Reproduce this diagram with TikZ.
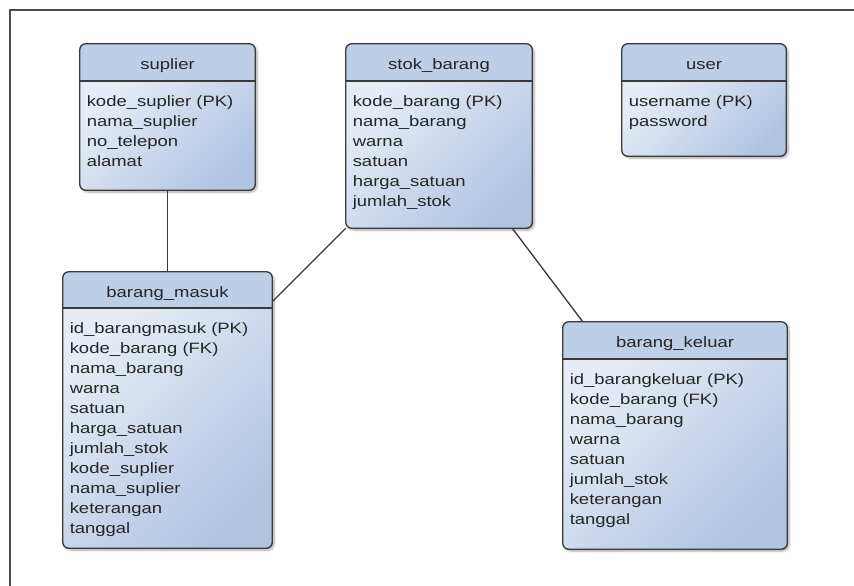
\documentclass[tikz,border=0pt]{standalone}
\usepackage{fontspec}
\newfontfamily\erdfont{Liberation Sans}[FakeStretch=1.23]
\usetikzlibrary{fit,shadows.blur}
\definecolor{headblue}{HTML}{BDCEE7}
\definecolor{bodylight}{HTML}{E6ECF6}
\definecolor{bodydark}{HTML}{B0C4E2}
\definecolor{edge}{HTML}{3A3A3A}
\definecolor{ink}{HTML}{262626}
\tikzset{
  tablebox/.style={inner sep=0pt, rounded corners=4.5pt, fill=bodydark,
    blur shadow={shadow xshift=1.5pt, shadow yshift=-1.5pt, shadow blur steps=6, shadow opacity=35}},
  frame/.style={draw=edge, line width=1pt, rounded corners=4.5pt},
  divider/.style={draw=edge, line width=1pt},
  bodyshade/.style={top color=bodylight, bottom color=bodydark, shading angle=45},
  headtext/.style={font=\erdfont\fontsize{11.25}{15}\selectfont, text=ink, inner sep=0pt, anchor=base},
  rowtext/.style={headtext, anchor=base west},
  link/.style={draw=edge, line width=1pt},
  outer/.style={draw=black!70, line width=1pt},
}
% #1 name, #2 left, #3 top, #4 right, #5 bottom, #6 header line, #7 title, #8 rows
\newcommand{\erdtable}[8]{%
  \node[tablebox, fit={(#2,#3) (#4,#5)}] (#1) {};
  \begin{scope}
    \clip[rounded corners=4.5pt] (#2,#3) rectangle (#4,#5);
    \fill[headblue] (#2,#3) rectangle (#4,#6);
    \shade[bodyshade] (#2,#6) rectangle (#4,#5);
  \end{scope}
  \draw[frame] (#1.north west) rectangle (#1.south east);
  \draw[divider] (#1.west |- 0,#6) -- (#1.east |- 0,#6);
  \node[headtext] (#1-title) at ({(#2+#4)/2},{#3+25.5}) {#7};
  \foreach \row [count=\i] in {#8} {
    \node[rowtext] (#1-r\i) at ({#2+6.5},{#6+25.5+20*(\i-1)}) {\row};
  }
}
\begin{document}
\begin{tikzpicture}[x=0.75pt,y=-0.75pt]
\useasboundingbox (0,0) rectangle (854,586);
\coordinate (fbl) at (10,586);
\coordinate (ftl) at (10,10);
\coordinate (ftr) at (854,10);
\draw[outer] (fbl) -- (ftl) -- (ftr);

\erdtable{sup}{80}{44}{255}{190}{81}{suplier}{kode\_suplier (PK),nama\_suplier,no\_telepon,alamat}
\erdtable{stok}{346}{44}{532}{228}{81}{stok\_barang}{kode\_barang (PK),nama\_barang,warna,satuan,harga\_satuan,jumlah\_stok}
\erdtable{usr}{622}{44}{786}{156}{81}{user}{username (PK),password}
\erdtable{masuk}{63}{272}{272}{548}{308}{barang\_masuk}{id\_barangmasuk (PK),kode\_barang (FK),nama\_barang,warna,satuan,harga\_satuan,jumlah\_stok,kode\_suplier,nama\_suplier,keterangan,tanggal}
\erdtable{keluar}{563}{322}{787}{549}{359}{barang\_keluar}{id\_barangkeluar (PK),kode\_barang (FK),nama\_barang,warna,satuan,jumlah\_stok,keterangan,tanggal}

\draw[link] (sup.south) -- (masuk.north);
\draw[link] (stok.south west) -- ([yshift=-22.5pt]masuk.north east);
\draw[link] ([xshift=-15pt]stok.south east) -- ([xshift=15pt]keluar.north west);
\end{tikzpicture}
\end{document}
